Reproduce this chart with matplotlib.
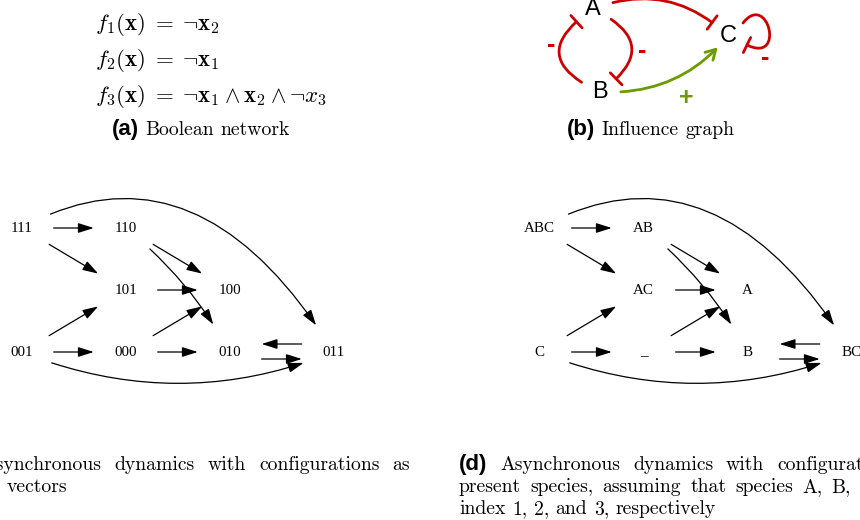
import matplotlib.pyplot as plt
from matplotlib.patches import FancyArrowPatch
from matplotlib.path import Path

plt.rcParams["mathtext.fontset"] = "cm"

# ---- content ----
equations = [
    r"$f_1(\mathbf{x})\; = \;\neg\mathbf{x}_2$",
    r"$f_2(\mathbf{x})\; = \;\neg\mathbf{x}_1$",
    r"$f_3(\mathbf{x})\; = \;\neg\mathbf{x}_1 \wedge \mathbf{x}_2 \wedge \neg x_3$",
]

influence_nodes = ["A", "B", "C"]
# (source, target, sign)
influence_edges = [("B", "A", "-"), ("A", "B", "-"), ("A", "C", "-"),
                   ("C", "C", "-"), ("B", "C", "+")]

state_labels = ["111", "110", "101", "100", "001", "000", "010", "011"]
species_labels = ["ABC", "AB", "AC", "A", "C", "_", "B", "BC"]
node_col = [0, 1, 1, 2, 0, 1, 2, 3]
node_row = [0, 0, 1, 1, 2, 2, 2, 2]
transitions = [(0, 1), (0, 2), (4, 2), (4, 5), (1, 3), (2, 3), (5, 3),
               (5, 6), (7, 6), (6, 7), (1, 6), (0, 7), (4, 7)]

caption_a = ("(a)", "Boolean network")
caption_b = ("(b)", "Influence graph")
caption_c = ("(c)", ["Asynchronous dynamics with configurations as",
                     "binary vectors"])
caption_d = ("(d)", ["Asynchronous dynamics with configurations as",
                     "present species, assuming that species A, B, and C have",
                     "index 1, 2, and 3, respectively"])

RED = "#cc0000"
GREEN = "#6b9b00"
SANS = "Liberation Sans"
CAP_SIZE = 14.2
TAG_SIZE = 16

fig = plt.figure(figsize=(8.6, 5.2), dpi=100)
ax = fig.add_axes([0, 0, 1, 1])
ax.set_xlim(0, 860)
ax.set_ylim(520, 0)
ax.axis("off")
renderer = fig.canvas.get_renderer()


def caption_line(x0, x1, y, text, tag=None, justify=True):
    items = []
    if tag:
        items.append(ax.text(0, y, tag, fontfamily=SANS, fontweight="bold",
                             fontsize=TAG_SIZE, va="baseline"))
    for w in text.split(" "):
        items.append(ax.text(0, y, w, fontfamily="cmr10", fontsize=CAP_SIZE,
                             va="baseline"))
    widths = [t.get_window_extent(renderer).width for t in items]
    gap = 0.333 * CAP_SIZE * 100 / 72
    if justify and len(items) > 1:
        gap = (x1 - x0 - sum(widths)) / (len(items) - 1)
    x = x0
    for t, w in zip(items, widths):
        t.set_x(x)
        x += w + gap


# (a) Boolean network
for i, eq in enumerate(equations):
    ax.text(95, 25 + 36 * i, eq, fontsize=16.5, va="center", ha="left")
caption_line(112, 0, 135, caption_a[1], tag=caption_a[0], justify=False)

# (b) Influence graph
pos = {"A": (593, 9), "B": (600, 92), "C": (728, 36)}
for n in influence_nodes:
    ax.text(*pos[n], n, fontfamily=SANS, fontsize=17, ha="center", va="center")

bend = {("B", "A"): -0.9, ("A", "B"): -0.85, ("A", "C"): -0.32, ("B", "C"): 0.25}
sign_pos = {("B", "A"): (551, 45), ("A", "B"): (642, 51), ("C", "C"): (765, 58),
            ("B", "C"): (686, 98)}
for src, dst, sgn in influence_edges:
    col = RED if sgn == "-" else GREEN
    if sgn == "-":
        style = "-[,widthB=0.6,lengthB=0"
        shrink_end = 15
    else:
        style = "->,head_length=0.7,head_width=0.4"
        shrink_end = 11
    if src == dst:
        cx, cy = pos[src]
        loop = Path([(cx + 15, cy - 13), (cx + 40, cy - 45), (cx + 58, cy + 28),
                     (cx + 19, cy + 9)],
                    [Path.MOVETO, Path.CURVE4, Path.CURVE4, Path.CURVE4])
        p = FancyArrowPatch(path=loop, arrowstyle=style, mutation_scale=10,
                            color=col, lw=2)
    else:
        p = FancyArrowPatch(pos[src], pos[dst], arrowstyle=style,
                            connectionstyle=f"arc3,rad={bend[(src, dst)]}",
                            shrinkA=15, shrinkB=shrink_end, mutation_scale=10,
                            color=col, lw=2)
    ax.add_patch(p)
    if (src, dst) in sign_pos:
        ax.text(*sign_pos[(src, dst)], sgn, color=col, fontfamily=SANS,
                fontweight="bold", fontsize=18, ha="center", va="center")
caption_line(567, 0, 135, caption_b[1], tag=caption_b[0], justify=False)

# (c) and (d) asynchronous dynamics


def draw_dynamics(labels, x_off):
    xy = [(21.7 + x_off + 104 * c, 228 + 62 * r) for c, r in zip(node_col, node_row)]
    for (x, y), lab in zip(xy, labels):
        ax.text(x, y, lab, fontfamily="Liberation Serif", fontsize=10.8,
                ha="center", va="center")
    for s, d in transitions:
        a, b = xy[s], xy[d]
        conn = "arc3"
        if (s, d) == (0, 7):
            conn = "angle3,angleA=29,angleB=-58"
        elif (s, d) == (4, 7):
            conn = "arc3,rad=0.2"
        elif (s, d) == (1, 6):
            conn = "arc3,rad=-0.1"
        elif (s, d) in [(7, 6), (6, 7)]:
            lane = -8 if s == 7 else 7
            a = (a[0], a[1] + lane)
            b = (b[0], b[1] + lane)
        p = FancyArrowPatch(a, b, arrowstyle="-|>,head_length=0.95,head_width=0.3",
                            connectionstyle=conn, shrinkA=23, shrinkB=23,
                            mutation_scale=10, color="black", lw=0.9)
        ax.add_patch(p)


draw_dynamics(state_labels, 0)
draw_dynamics(species_labels, 518)

tag_c, lines_c = caption_c
caption_line(-59, 410, 470, lines_c[0], tag=tag_c)
caption_line(-55, 410, 492, lines_c[1], justify=False)

tag_d, lines_d = caption_d
caption_line(459, 928, 470, lines_d[0], tag=tag_d)
caption_line(459, 964, 492, lines_d[1])
caption_line(459, 928, 514, lines_d[2], justify=False)

fig.savefig("out.png", dpi=100)
